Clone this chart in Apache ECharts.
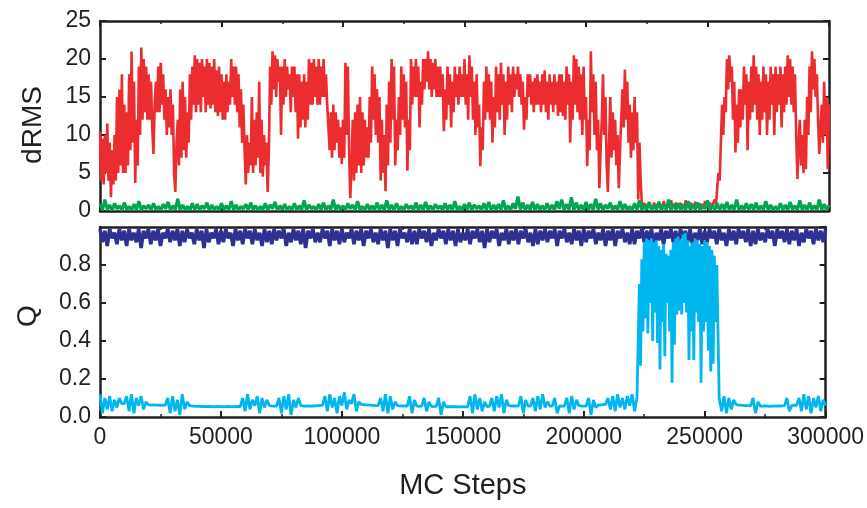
<!DOCTYPE html>
<html>
<head>
<meta charset="utf-8">
<script src="https://cdn.jsdelivr.net/npm/echarts@6/dist/echarts.min.js"></script>
<style>
html,body{margin:0;padding:0;background:#fff;}
#chart{width:867px;height:508px;}
</style>
</head>
<body>
<div id="chart"></div>
<script>
// Sampling intervals (MC steps) of the recorded trajectories
const STEP = 1000;       // green, dark blue, light blue
const STEP_RED = 500;    // red dRMS trace
const STEP_FOLDED = 500; // light-blue trace inside the folded window
const FOLDED_START = 223000;
const AFTER_START = 256000;

const xTicks = [0, 50000, 100000, 150000, 200000, 250000, 300000];
const dRMSTicks = [0, 5, 10, 15, 20, 25];
const qTicks = [0.0, 0.2, 0.4, 0.6, 0.8];

// dRMS red trace (0 .. 300000 every 500 steps)
const dRMSRed = [
10.5,4,9.5,3.5,10,5,11.5,4,9,1.8,8,3.5,10,4,15,5,16,6,18,5,
14,5,13,6,18,8,21,9,17,3.7,12,6,19,10,21.5,12,20,13,19,12,
18,12,17,11,7.5,14,17,13,19,13,19.5,14,18,12,16,10,15,11,16,10,
14,5,2.5,9,12,6,16,7,17,8,15,7,13,9,18,12,19,14,20.5,13,
20,14,19.5,13,20,15,19,13,20,14,19.5,13.5,19,14,20,13,18.5,12.5,19,13,
18,12,17,12,18,13,17,14,20,15,19,14,19,13,18,11,16,9,14,8,
3.5,10,5,9,6,15,5,12,6,13,7,17,5,12,4.5,10,6,9,2.5,8,
19,14,21,16,20.5,15,20,17,19,10,19,14,20,15,19,16,18,13,19,15,
19,13,18,9.5,18,11,17,12,18,11,17,12,20,14,19.5,14,20,15,19,14,
20,14,19,15,20,15,18,14,14,8,13,7,14,8,13,9,12,7,11,6.2,
12,7,19.5,10,19,8,1.7,6,12,4,13,5,14,6,15,5,13,6,12,7,
11,7,15,9,19,12,18,10,16,9,15,4,12,5,10,2.6,14,6,17,9,
20,12,19,6,12,8,15,10,19,12,18,11,17,5.3,12,8,20,14,19,15,
20,15,19,11,17,14,20,16,20,17,21,16,20,15,19.5,16,20,15,19,15,
19,15,18,10.5,16,12,19,14,18,11,17,13,19,15,18,14,19,15,18,15,
20,14,18,12,20.5,15,19,12,17,10,18,11,14,5.9,11,8,17,12,19,13,
18,12,17,9,15,11,19,13,18,12,19.5,14,18,10,17,12,19,14,18,13,
19,15,18,16,19,15,18,14,17,10.7,15,12,18,15,18,14,17,13,17.5,14,
18,14,17,13,18,14,18.5,13,17,12,18,14,17,13,18,14,17,12.5,18,13,
18,12.5,17,12,19,14,18,9,17,12,20.5,14,20,13,19,12,18,10,19,12,
15,5.9,12,8,21,13,18,10,17,8,12,3,8,12,18,10,15,6,2.5,9,
15,7,13,8,12,6,10,3,8,12,16,11,18.6,12,17,9,14,7,13,8,
15,9,13,1.5,9,4,0.8,0.6,1.0,0.4,0.9,0.5,1.2,0.6,0.8,0.4,1.1,0.5,0.9,0.6,
1.2,0.5,0.9,0.4,1.3,0.6,0.8,0.5,1.0,0.4,1.4,0.6,0.9,0.5,1.1,0.4,0.8,0.6,1.0,0.5,
0.9,0.4,1.4,0.6,0.8,0.5,1.1,0.4,0.9,0.6,1.2,0.5,0.8,0.4,1.0,0.6,0.9,0.5,1.3,0.4,
0.9,0.5,1.1,0.4,0.8,0.6,1.5,0.8,3,5,4,9,14,10,15,13,20,16,20.5,17,
19,12,17,7.7,14,9,16,11,16,12,19,14,18,8,17,12,19,13,20.5,14,
19,12,18,10,17,12,19,13,18,10,17,12,19,14,18,10,19,13,18,14,
19,11,18,13,19,14,20.5,15,20,14,19,13,18,10,4.2,9,12,6,10,5,
12,5.5,15,10,19,13,21,16,20,15,18,12,7.5,11,14,9,17,10,15,5.5,
14
];

// dRMS green trace (0 .. 300000 every 1000 steps)
const dRMSGreen = [
0.9,0.1,1.5,0.2,0.8,0.1,1.0,0.3,0.7,0.1,
1.1,0.2,0.6,0.1,0.9,0.2,1.3,0.1,0.7,0.3,
0.8,0.1,1.0,0.2,0.6,0.1,0.9,0.3,1.2,0.1,
0.7,0.2,1.6,0.1,0.8,0.2,0.6,0.1,1.0,0.2,
0.9,0.1,0.7,0.3,1.1,0.1,0.8,0.2,0.6,0.1,
1.0,0.2,0.7,0.1,1.3,0.2,0.8,0.1,0.6,0.3,
0.9,0.1,1.1,0.2,0.7,0.1,0.6,0.2,1.0,0.1,
0.8,0.3,1.2,0.1,0.7,0.2,0.9,0.1,0.6,0.2,
1.0,0.1,0.7,0.2,1.4,0.1,0.8,0.3,0.6,0.1,
0.9,0.2,1.1,0.1,0.7,0.2,1.5,0.1,0.8,0.2,
0.7,0.1,1.0,0.3,0.8,0.1,1.3,0.2,0.6,0.1,
0.9,0.2,0.7,0.1,1.1,0.2,0.8,0.1,1.4,0.2,
0.8,0.1,1.0,0.2,0.6,0.1,0.9,0.3,0.7,0.1,
1.1,0.2,0.8,0.1,1.2,0.2,0.7,0.1,0.9,0.3,
0.7,0.1,1.0,0.2,0.8,0.1,1.3,0.2,0.6,0.1,
0.9,0.2,1.1,0.1,0.8,0.3,0.7,0.1,1.0,0.2,
1.2,0.1,0.8,0.2,0.9,0.1,1.4,0.2,0.7,0.1,
1.0,0.3,1.9,0.2,1.1,0.1,0.8,0.2,1.2,0.1,
0.9,0.2,0.7,0.1,1.0,0.2,0.8,0.1,1.3,0.3,
1.5,0.1,0.9,0.2,1.8,0.1,1.1,0.2,0.8,0.1,
1.2,0.2,0.9,0.1,1.6,0.2,1.0,0.1,0.8,0.3,
1.1,0.1,0.7,0.2,1.3,0.1,0.9,0.2,0.6,0.1,
1.0,0.2,1.4,0.1,0.8,0.2,1.1,0.1,0.7,0.2,
1.2,0.1,0.8,0.2,1.5,0.1,0.9,0.2,1.0,0.1,
0.8,0.2,1.3,0.1,0.9,0.2,1.1,0.1,0.7,0.3,
1.4,0.1,0.8,0.2,1.0,0.1,0.9,0.2,1.2,0.1,
0.8,0.2,1.5,0.1,0.7,0.2,1.0,0.1,0.9,0.2,
1.1,0.1,0.7,0.2,1.3,0.1,0.8,0.2,0.6,0.1,
1.0,0.2,0.8,0.1,1.2,0.2,0.7,0.1,1.4,0.2,
0.8,0.1,1.1,0.2,0.7,0.1,1.5,0.2,0.9,0.1,
0.8
];

// Q dark-blue trace (0 .. 300000 every 1000 steps)
const qDark = [
0.99,0.92,0.98,0.90,0.99,0.94,0.97,0.91,0.99,0.93,
0.98,0.90,0.99,0.93,0.97,0.92,0.99,0.89,0.98,0.94,
0.99,0.91,0.98,0.93,0.99,0.90,0.97,0.94,0.99,0.92,
0.98,0.93,0.99,0.90,0.98,0.92,0.99,0.94,0.97,0.91,
0.99,0.93,0.98,0.89,0.99,0.92,0.97,0.94,0.99,0.91,
0.98,0.92,0.99,0.94,0.97,0.90,0.99,0.93,0.98,0.91,
0.99,0.94,0.98,0.91,0.99,0.93,0.97,0.90,0.99,0.92,
0.98,0.91,0.99,0.93,0.98,0.94,0.99,0.90,0.97,0.92,
0.99,0.93,0.98,0.91,0.99,0.89,0.98,0.94,0.99,0.92,
0.97,0.92,0.99,0.94,0.98,0.90,0.99,0.93,0.98,0.91,
0.99,0.92,0.97,0.94,0.99,0.91,0.98,0.93,0.99,0.90,
0.98,0.94,0.99,0.92,0.97,0.91,0.99,0.93,0.98,0.89,
0.99,0.93,0.98,0.90,0.99,0.94,0.97,0.92,0.99,0.91,
0.98,0.91,0.99,0.94,0.98,0.92,0.99,0.90,0.97,0.93,
0.99,0.94,0.98,0.91,0.99,0.93,0.98,0.90,0.99,0.92,
0.97,0.93,0.99,0.91,0.98,0.94,0.99,0.92,0.98,0.89,
0.99,0.92,0.98,0.94,0.99,0.90,0.97,0.93,0.99,0.91,
0.98,0.93,0.99,0.91,0.98,0.94,0.99,0.92,0.97,0.90,
0.99,0.91,0.98,0.93,0.99,0.92,0.98,0.94,0.99,0.90,
0.98,0.94,0.99,0.92,0.97,0.91,0.99,0.93,0.98,0.90,
0.99,0.92,0.98,0.94,0.99,0.91,0.97,0.93,0.99,0.90,
0.98,0.93,0.99,0.90,0.98,0.94,0.99,0.92,0.97,0.91,
0.99,0.91,0.98,0.94,0.99,0.92,0.98,0.93,0.99,0.90,
0.97,0.93,0.99,0.91,0.98,0.94,0.99,0.92,0.98,0.90,
0.99,0.94,0.98,0.92,0.99,0.90,0.97,0.93,0.99,0.91,
0.98,0.92,0.99,0.94,0.98,0.91,0.99,0.93,0.97,0.90,
0.99,0.93,0.98,0.91,0.99,0.94,0.98,0.92,0.99,0.90,
0.98,0.91,0.99,0.93,0.97,0.92,0.99,0.94,0.98,0.90,
0.99,0.94,0.98,0.92,0.99,0.91,0.98,0.93,0.99,0.90,
0.97,0.92,0.99,0.94,0.98,0.91,0.99,0.93,0.98,0.92,
0.99
];

// Q light-blue trace: before folding (0 .. 222000 every 1000 steps)
const qLightBefore = [
0.12,0.02,0.10,0.04,0.11,0.03,0.09,0.05,0.10,0.07,
0.07,0.11,0.03,0.12,0.02,0.10,0.06,0.11,0.04,0.08,
0.065,0.063,0.064,0.062,0.063,0.061,0.062,0.063,0.10,0.02,
0.11,0.03,0.09,0.01,0.12,0.04,0.08,0.06,0.058,0.057,
0.056,0.057,0.055,0.056,0.055,0.056,0.055,0.054,0.055,0.056,
0.055,0.054,0.055,0.056,0.055,0.054,0.055,0.056,0.055,0.10,
0.03,0.12,0.04,0.09,0.06,0.11,0.02,0.10,0.05,0.09,
0.06,0.058,0.057,0.058,0.10,0.02,0.11,0.04,0.12,0.01,
0.09,0.05,0.10,0.06,0.058,0.057,0.058,0.057,0.058,0.059,
0.06,0.061,0.062,0.11,0.03,0.12,0.05,0.10,0.02,0.11,
0.06,0.13,0.04,0.09,0.07,0.12,0.03,0.08,0.066,0.065,
0.064,0.063,0.062,0.061,0.06,0.06,0.10,0.03,0.12,0.02,
0.11,0.04,0.08,0.06,0.059,0.058,0.058,0.057,0.11,0.02,
0.09,0.057,0.056,0.057,0.10,0.03,0.08,0.056,0.055,0.056,
0.10,0.01,0.08,0.055,0.054,0.055,0.054,0.055,0.054,0.053,
0.054,0.053,0.054,0.11,0.02,0.12,0.04,0.10,0.03,0.08,
0.055,0.056,0.10,0.03,0.11,0.05,0.12,0.02,0.09,0.06,
0.058,0.059,0.058,0.059,0.11,0.02,0.09,0.058,0.057,0.10,
0.03,0.11,0.04,0.12,0.05,0.08,0.058,0.057,0.10,0.02,
0.058,0.057,0.058,0.10,0.02,0.11,0.04,0.09,0.06,0.058,
0.057,0.058,0.10,0.01,0.09,0.05,0.062,0.064,0.065,0.066,
0.10,0.04,0.11,0.03,0.12,0.05,0.10,0.04,0.11,0.06,
0.12,0.03,0.10
];

// Q light-blue trace inside the folded window (223000 .. 255000 every 500 steps)
const qLightFolded = [
0.70,0.27,0.83,0.45,0.92,0.52,0.94,0.44,0.93,0.60,
0.94,0.40,0.92,0.55,0.93,0.39,0.90,0.25,0.88,0.50,
0.91,0.32,0.86,0.60,0.85,0.45,0.88,0.18,0.92,0.38,
0.94,0.54,0.95,0.56,0.93,0.54,0.96,0.60,0.97,0.55,
0.93,0.30,0.90,0.45,0.92,0.30,0.94,0.55,0.93,0.50,
0.91,0.18,0.90,0.45,0.93,0.50,0.92,0.35,0.90,0.24,
0.88,0.28,0.85,0.50,0.80
];

// Q light-blue trace after unfolding (256000 .. 300000 every 1000 steps)
const qLightAfter = [
0.10,0.03,0.11,0.02,
0.10,0.04,0.09,0.065,0.063,0.062,0.061,0.06,0.06,0.059,
0.10,0.02,0.08,0.058,0.057,0.058,0.057,0.056,0.057,0.058,
0.057,0.058,0.059,0.06,0.10,0.03,0.061,0.062,0.061,0.10,
0.03,0.12,0.04,0.11,0.02,0.10,0.05,0.11,0.03,0.09,
0.06
];

const COL = {
  red: '#ec2d30',
  green: '#00a651',
  dark: '#2e3192',
  light: '#00b6ef',
  axis: '#231f20'
};
const FONT = '"Liberation Sans", Arial, Helvetica, sans-serif';

function pairs(vals, step, start) {
  return vals.map((v, i) => [(start || 0) + i * step, v]);
}
const qLightData = pairs(qLightBefore, STEP, 0)
  .concat(pairs(qLightFolded, STEP_FOLDED, FOLDED_START))
  .concat(pairs(qLightAfter, STEP, AFTER_START));

const axisLineStyle = { lineStyle: { color: COL.axis, width: 2.5 }, onZero: false };
const tickStyle = { show: true, inside: true, length: 6, lineStyle: { color: COL.axis, width: 2 } };
const minorStyle = { show: true, splitNumber: 2, length: 3, lineStyle: { color: COL.axis, width: 1.5 } };

function xAx(grid, pos, labels) {
  const a = {
    type: 'value', gridIndex: grid, position: pos,
    min: xTicks[0], max: xTicks[xTicks.length - 1], interval: xTicks[1] - xTicks[0],
    axisLine: axisLineStyle, axisTick: tickStyle, minorTick: minorStyle,
    splitLine: { show: false },
    axisLabel: { show: labels, fontFamily: FONT, fontSize: 23, color: COL.axis, margin: 9,
      formatter: v => String(v) }
  };
  if (labels) {
    a.name = 'MC Steps';
    a.nameLocation = 'middle';
    a.nameGap = 54;
    a.nameTextStyle = { fontFamily: FONT, fontSize: 29, color: COL.axis };
  }
  return a;
}
function yAx(grid, pos, ticks, labels, fmt) {
  return {
    type: 'value', gridIndex: grid, position: pos,
    min: ticks[0], max: grid === 0 ? ticks[ticks.length - 1] : 1.0,
    interval: ticks[1] - ticks[0],
    axisLine: axisLineStyle, axisTick: tickStyle,
    splitLine: { show: false },
    axisLabel: {
      show: labels, fontFamily: FONT, fontSize: 23, color: COL.axis, margin: 9,
      formatter: fmt, showMaxLabel: grid === 0
    }
  };
}

function lineSeries(xi, yi, data, color, width) {
  return {
    type: 'line', xAxisIndex: xi, yAxisIndex: yi, data: data,
    showSymbol: false, symbol: 'none',
    lineStyle: { color: color, width: width, join: 'bevel' },
    itemStyle: { color: color }
  };
}

const chart = echarts.init(document.getElementById('chart'), null, { renderer: 'canvas' });
chart.setOption({
  animation: false,
  backgroundColor: '#fff',
  grid: [
    { left: 100, right: 38, top: 21, height: 190 },
    { left: 100, right: 38, top: 227, height: 190 }
  ],
  xAxis: [xAx(0, 'bottom', false), xAx(0, 'top', false), xAx(1, 'bottom', true), xAx(1, 'top', false)],
  yAxis: [
    yAx(0, 'left', dRMSTicks, true, v => String(v)),
    yAx(0, 'right', dRMSTicks, false),
    yAx(1, 'left', qTicks, true, v => (v > 0.95 ? '' : v.toFixed(1))),
    yAx(1, 'right', qTicks, false)
  ],
  graphic: [
    { type: 'text', x: 33, y: 125, rotation: Math.PI / 2,
      style: { text: 'dRMS', font: '28px ' + FONT, fill: COL.axis, textAlign: 'center', textVerticalAlign: 'middle' } },
    { type: 'text', x: 28, y: 316, rotation: Math.PI / 2,
      style: { text: 'Q', font: '28px ' + FONT, fill: COL.axis, textAlign: 'center', textVerticalAlign: 'middle' } }
  ],
  series: [
    lineSeries(0, 0, pairs(dRMSRed, STEP_RED, 0), COL.red, 2.6),
    lineSeries(0, 0, pairs(dRMSGreen, STEP, 0), COL.green, 3.2),
    lineSeries(2, 2, pairs(qDark, STEP, 0), COL.dark, 3.6),
    lineSeries(2, 2, qLightData, COL.light, 2.8)
  ]
});
</script>
</body>
</html>
